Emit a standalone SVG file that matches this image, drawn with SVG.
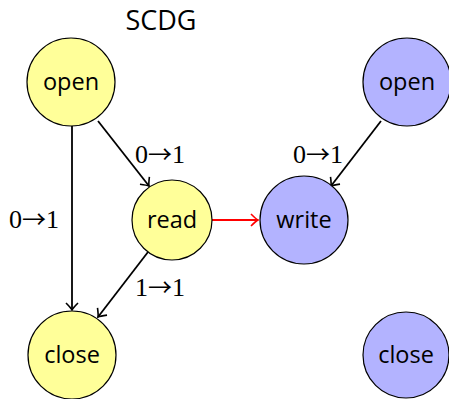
<svg xmlns="http://www.w3.org/2000/svg" width="449" height="399" viewBox="0 0 449 399">
  <style>
    .node circle { stroke: #000; stroke-width: 1.2; }
    .sc circle { fill: #ffff99; }
    .dg circle { fill: #b3b3ff; }
    .node text { font-family: "Open Sans", "DejaVu Sans", sans-serif; font-size: 23.5px; text-anchor: middle; fill: #000; }
    .edge { stroke: #000; stroke-width: 1.8; fill: none; marker-end: url(#tip); }
    .edge.red { stroke: #ff0000; marker-end: url(#tipRed); }
    .lbl { font-family: "Liberation Serif", "DejaVu Serif", serif; font-size: 26px; text-anchor: middle; fill: #000; }
    .lbl .arr { font-family: "Noto Sans CJK SC", "DejaVu Sans", sans-serif; font-size: 24px; }
    .title { font-family: "Open Sans", "DejaVu Sans", sans-serif; font-size: 27px; text-anchor: middle; fill: #000; }
  </style>
  <defs>
    <marker id="tip" viewBox="-8 -7 9 14" markerWidth="9" markerHeight="14" refX="0" refY="0" orient="auto" markerUnits="userSpaceOnUse">
      <path d="M-7,-6 Q-2,-1 0,0 Q-2,1 -7,6" fill="none" stroke="#000" stroke-width="1.6"/>
    </marker>
    <marker id="tipRed" viewBox="-8 -7 9 14" markerWidth="9" markerHeight="14" refX="0" refY="0" orient="auto" markerUnits="userSpaceOnUse">
      <path d="M-7,-6 Q-2,-1 0,0 Q-2,1 -7,6" fill="none" stroke="#ff0000" stroke-width="1.6"/>
    </marker>
  </defs>

  <text class="title" x="161" y="30">SCDG</text>

  <g id="connectors">
    <line class="edge" x1="72" y1="126" x2="72" y2="310"/>
    <line class="edge" x1="98" y1="121" x2="149" y2="186"/>
    <line class="edge" x1="148" y1="252" x2="98" y2="317"/>
    <line class="edge red" x1="212" y1="220" x2="258" y2="220"/>
    <line class="edge" x1="381" y1="121" x2="331" y2="186"/>
    <text class="lbl" x="160" y="163">0<tspan class="arr">→</tspan>1</text>
    <text class="lbl" x="34" y="228">0<tspan class="arr">→</tspan>1</text>
    <text class="lbl" x="160" y="296">1<tspan class="arr">→</tspan>1</text>
    <text class="lbl" x="318" y="163">0<tspan class="arr">→</tspan>1</text>
  </g>

  <g id="sc-open" class="node sc">
    <circle cx="71" cy="82" r="44"/>
    <text x="71" y="90">open</text>
  </g>
  <g id="sc-read" class="node sc">
    <circle cx="172" cy="220" r="40"/>
    <text x="172" y="228">read</text>
  </g>
  <g id="sc-close" class="node sc">
    <circle cx="72" cy="355" r="44"/>
    <text x="72" y="363">close</text>
  </g>

  <g id="dg-open" class="node dg">
    <circle cx="407" cy="82" r="44"/>
    <text x="407" y="90">open</text>
  </g>
  <g id="dg-write" class="node dg">
    <circle cx="304" cy="220" r="44"/>
    <text x="304" y="228">write</text>
  </g>
  <g id="dg-close" class="node dg">
    <circle cx="406" cy="355" r="43"/>
    <text x="406" y="363">close</text>
  </g>
</svg>
